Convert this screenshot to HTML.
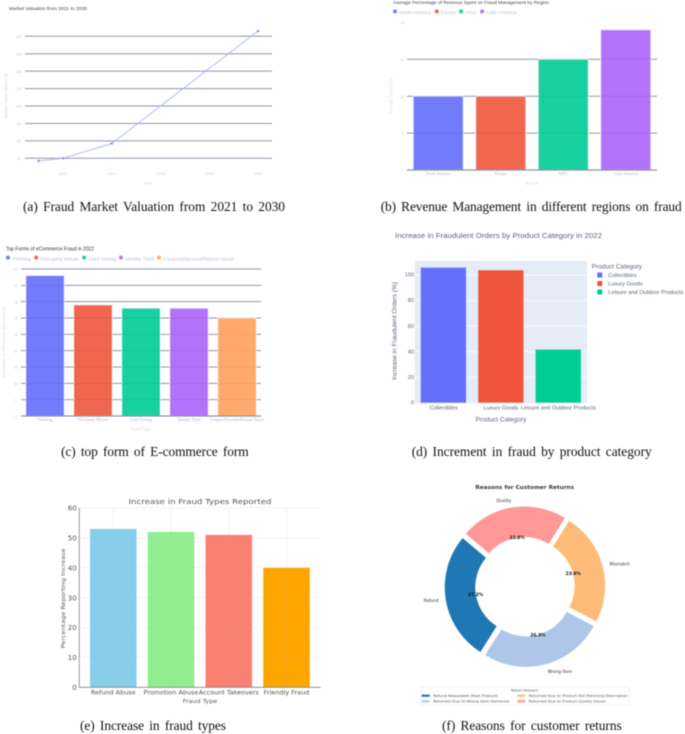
<!DOCTYPE html>
<html lang="en">
<head>
<meta charset="utf-8">
<title>Fraud charts figure</title>
<style>
html,body{margin:0;padding:0;background:#fff;width:685px;height:734px;overflow:hidden}
svg{display:block;filter:blur(.45px)}
.cap{font-family:"Liberation Serif",serif;font-size:13.4px;fill:#111;word-spacing:2px}
.ply{font-family:"Liberation Sans",sans-serif}
.ser{font-family:"Liberation Serif",serif}
.mpl{font-family:"DejaVu Sans",sans-serif}
</style>
</head>
<body>
<svg id="fig" xmlns="http://www.w3.org/2000/svg" width="685" height="734" viewBox="0 0 685 734">
  <rect width="685" height="734" fill="#fff"/>

  <g id="chart-a">
    <text class="ply" x="9" y="10" font-size="4.8" fill="#444" textLength="78" lengthAdjust="spacingAndGlyphs">Market Valuation from 2021 to 2030</text>
    <text class="ply" x="148" y="184.5" font-size="4.2" fill="#d3d9e6" text-anchor="middle">Year</text>
    <text class="ply" transform="translate(7.5,96) rotate(-90)" font-size="4.2" fill="#d3d9e6" text-anchor="middle" textLength="45" lengthAdjust="spacingAndGlyphs">Market Value (Billion $)</text>
  </g>
  <text class="cap" x="23" y="211" textLength="262" lengthAdjust="spacing">(a) Fraud Market Valuation from 2021 to 2030</text>

  <g id="chart-b">
    <text class="ply" x="393" y="3.8" font-size="4.4" fill="#444" textLength="156" lengthAdjust="spacingAndGlyphs">Average Percentage of Revenue Spent on Fraud Management by Region</text>
    <text class="ser" x="531.7" y="184.5" font-size="4.4" fill="#d3d9e6" text-anchor="middle">Region</text>
    <text class="ser" transform="translate(392,96) rotate(-90)" font-size="4.4" fill="#d3d9e6" text-anchor="middle" textLength="36" lengthAdjust="spacingAndGlyphs">Average Spend (%)</text>
  </g>
  <text class="cap" x="380.7" y="211" textLength="301" lengthAdjust="spacing">(b) Revenue Management in different regions on fraud</text>

  <g id="chart-c">
    <text class="ply" x="6" y="250.5" font-size="5" fill="#333" textLength="88" lengthAdjust="spacingAndGlyphs">Top Forms of eCommerce Fraud in 2022</text>
    <text class="ser" x="140.7" y="430.5" font-size="4.4" fill="#d3d9e6" text-anchor="middle">Fraud Type</text>
    <text class="ser" transform="translate(5,342) rotate(-90)" font-size="4.4" fill="#d3d9e6" text-anchor="middle" textLength="72" lengthAdjust="spacingAndGlyphs">Percentage of Merchants Affected (%)</text>
  </g>
  <text class="cap" x="61" y="456" textLength="187.7" lengthAdjust="spacing">(c) top form of E-commerce form</text>

  <g id="chart-d">
    <rect x="414.7" y="260.7" width="172.3" height="142.3" fill="#e5ecf6"/>
    <text class="ply" x="395" y="238.2" font-size="7" fill="#59647a" textLength="207" lengthAdjust="spacingAndGlyphs">Increase in Fraudulent Orders by Product Category in 2022</text>
    <text class="ply" x="501" y="421.5" font-size="6" fill="#59647a" text-anchor="middle" textLength="50.7" lengthAdjust="spacingAndGlyphs">Product Category</text>
    <text class="ply" transform="translate(396.7,331) rotate(-90)" font-size="6" fill="#59647a" text-anchor="middle" textLength="98" lengthAdjust="spacingAndGlyphs">Increase in Fraudulent Orders (%)</text>
    <text class="ply" x="591.7" y="268.4" font-size="6" fill="#59647a" textLength="50.3" lengthAdjust="spacingAndGlyphs">Product Category</text>
  </g>
  <text class="cap" x="411.7" y="456" textLength="240" lengthAdjust="spacing">(d) Increment in fraud by product category</text>

  <g id="chart-e">
    <text class="mpl" x="200" y="504.2" font-size="7.4" fill="#555" text-anchor="middle" textLength="143" lengthAdjust="spacingAndGlyphs">Increase in Fraud Types Reported</text>
    <text class="mpl" x="200" y="703" font-size="5.6" fill="#555" text-anchor="middle" textLength="34.7" lengthAdjust="spacingAndGlyphs">Fraud Type</text>
    <text class="mpl" transform="translate(65,598.3) rotate(-90)" font-size="5.6" fill="#555" text-anchor="middle" textLength="100" lengthAdjust="spacingAndGlyphs">Percentage Reporting Increase</text>
  </g>
  <text class="cap" x="80" y="730" textLength="146" lengthAdjust="spacing">(e) Increase in fraud types</text>

  <g id="chart-f">
    <text class="mpl" x="524.7" y="488.8" font-size="5.2" font-weight="bold" fill="#333" text-anchor="middle" textLength="98.7" lengthAdjust="spacingAndGlyphs">Reasons for Customer Returns</text>
    <rect x="420.7" y="687" width="208.6" height="18" fill="#fff" stroke="#e6e6e6" stroke-width=".5"/>
    <text class="mpl" x="524.7" y="691.6" font-size="3.5" fill="#555" text-anchor="middle">Return Reasons</text>
  </g>
  <text class="cap" x="442" y="730" textLength="179.7" lengthAdjust="spacing">(f) Reasons for customer returns</text>
</svg>

<script>
// Chart (a) data
const aYears = [2021, 2022, 2024, 2030];
const aValues = [37, 40, 57, 186];
const aYTicks = [40, 60, 80, 100, 120, 140, 160, 180];
const aXTicks = [2022, 2024, 2026, 2028, 2030];

// Chart (b) data
const bRegions = ['North America', 'Europe', 'APAC', 'Latin America'];
const bValues = [10, 10, 15, 19];
const bYTicks = [0, 5, 10, 15, 20];

// Chart (c) data
const cTypes = ['Phishing', 'First-party Misuse', 'Card Testing', 'Identity Theft', 'Coupon/Discount/Refund Abuse'];
const cValues = [43, 34, 33, 33, 30];
const cYTicks = [0, 5, 10, 15, 20, 25, 30, 35, 40, 45];

// Chart (d) data
const dCategories = ['Collectibles', 'Luxury Goods', 'Leisure and Outdoor Products'];
const dValues = [106, 104, 42];
const dYTicks = [0, 20, 40, 60, 80, 100];

// Chart (e) data
const eTypes = ['Refund Abuse', 'Promotion Abuse', 'Account Takeovers', 'Friendly Fraud'];
const eValues = [53, 52, 51, 40];
const eYTicks = [0, 10, 20, 30, 40, 50, 60];

// Chart (f) data
const fLabels = ['Refund', 'Wrong Item', 'Mismatch', 'Quality'];
const fValues = [27.2, 26.3, 23.9, 22.8];
const fLegend = ['Refund Requested (Kept Product)', 'Returned Due to Wrong Item Delivered', 'Returned Due to Product Not Matching Description', 'Returned Due to Product Quality Issues'];

const NS = 'http://www.w3.org/2000/svg';
const plotly = ['#636efa', '#ef553b', '#00cc96', '#ab63fa', '#ffa15a'];

function add(parent, tag, attrs, name) {
  const el = document.createElementNS(NS, tag);
  for (const k in attrs) el.setAttribute(k, attrs[k]);
  
  
  parent.appendChild(el);
  return el;
}
function label(parent, x, y, str, attrs, name) {
  const el = add(parent, 'text', Object.assign({x: x, y: y}, attrs), name);
  el.textContent = str;
  return el;
}
function linear(d0, d1, r0, r1) {
  return v => r0 + (v - d0) * (r1 - r0) / (d1 - d0);
}
function band(left, width, count, barWidth) {
  const step = width / count;
  return {center: i => left + step * (i + 0.5), barWidth: barWidth};
}
function yGrid(g, ticks, y, x0, x1, stroke, sw, prefix) {
  ticks.forEach(t => {
    add(g, 'line', {x1: x0, x2: x1, y1: y(t), y2: y(t), stroke: stroke, 'stroke-width': sw}, prefix + '-gridline-' + t);
  });
}
function yLabels(g, ticks, y, x, attrs, prefix) {
  ticks.forEach(t => {
    label(g, x, y(t) + 1.6, String(t), attrs, prefix + '-y-tick-' + t);
  });
}
function bars(g, values, xb, y, colors, opacity, stroke, prefix) {
  values.forEach((v, i) => {
    add(g, 'rect', {
      x: xb.center(i) - xb.barWidth / 2,
      y: y(v),
      width: xb.barWidth,
      height: y(0) - y(v),
      fill: colors[i % colors.length],
      'fill-opacity': opacity,
      stroke: stroke,
      'stroke-width': stroke === 'none' ? 0 : 0.8
    }, prefix + '-bar-' + i);
  });
}
function xLabels(g, cats, xb, yPos, attrs, prefix) {
  cats.forEach((c, i) => {
    label(g, xb.center(i), yPos, c, attrs, prefix + '-x-tick-' + i);
  });
}
function legendRow(g, items, markerX, textX, textW, yPos, prefix) {
  items.forEach((it, i) => {
    add(g, 'rect', {x: markerX[i], y: yPos - 4.6, width: 3.6, height: 3.6, rx: 0.6, fill: plotly[i], 'fill-opacity': 0.9}, prefix + '-legend-marker-' + i);
    label(g, textX[i], yPos, it, {class: 'ply', 'font-size': 4.8, fill: '#b4bdd3', textLength: textW[i], lengthAdjust: 'spacingAndGlyphs'}, prefix + '-legend-label-' + i);
  });
}

const gridCol = '#8f94a8';
const faintTick = {class: 'ply', 'font-size': 3.8, fill: '#c5cbdb', 'text-anchor': 'middle'};
const serifTick = {class: 'ser', 'font-size': 4.2, fill: '#a9b2c8', 'text-anchor': 'middle'};

// (a) line chart
(function () {
  const g = document.getElementById('chart-a');
  const x = linear(2022, 2030, 63, 258);
  const y = linear(40, 180, 158.3, 36.3);
  yGrid(g, aYTicks, y, 25, 272, gridCol, 1, 'chart-a');
  yLabels(g, aYTicks, y, 19, faintTick, 'chart-a');
  aXTicks.forEach(t => {
    label(g, x(t), 174.8, String(t), faintTick, 'chart-a-x-tick-' + t);
  });
  add(g, 'polyline', {
    points: aYears.map((yr, i) => x(yr) + ',' + y(aValues[i])).join(' '),
    fill: 'none', stroke: '#aab0fc', 'stroke-width': 0.9
  }, 'chart-a-line');
  aYears.forEach((yr, i) => {
    add(g, 'circle', {cx: x(yr), cy: y(aValues[i]), r: 1.2, fill: '#7d85fb'}, 'chart-a-point-' + yr);
  });
})();

// (b) bars
(function () {
  const g = document.getElementById('chart-b');
  const y = linear(0, 20, 170, 22.4);
  const xb = band(407, 250, bRegions.length, 50);
  yGrid(g, bYTicks.filter(t => t > 0 && t < 20), y, 407, 657, gridCol, 1, 'chart-b');
  bars(g, bValues, xb, y, plotly, 0.9, '#eef0fb', 'chart-b');
  add(g, 'line', {x1: 407, x2: 657, y1: y(0), y2: y(0), stroke: '#8f94a6', 'stroke-width': 1.3}, 'chart-b-x-axis');
  yLabels(g, bYTicks, y, 402.5, faintTick, 'chart-b');
  xLabels(g, bRegions, xb, 175.2, serifTick, 'chart-b');
  legendRow(g, bRegions, [393.2, 435, 459.3, 480.3], [399.3, 440.7, 465.3, 486.7], [31.5, 15.5, 12, 30], 14.2, 'chart-b');
})();

// (c) bars
(function () {
  const g = document.getElementById('chart-c');
  const y = linear(0, 45, 416, 269);
  const xb = band(21, 240, cTypes.length, 38.4);
  yGrid(g, cYTicks.filter(t => t > 0), y, 21, 261, gridCol, 1, 'chart-c');
  bars(g, cValues, xb, y, plotly, 0.9, '#eef0fb', 'chart-c');
  add(g, 'line', {x1: 21, x2: 261, y1: y(0), y2: y(0), stroke: '#8f94a6', 'stroke-width': 1.3}, 'chart-c-x-axis');
  yLabels(g, cYTicks, y, 16, faintTick, 'chart-c');
  xLabels(g, cTypes, xb, 421.2, serifTick, 'chart-c');
  legendRow(g, cTypes, [6.2, 34.3, 82.3, 119.2, 157.2], [12.7, 40.3, 88.7, 125, 163.7], [18.3, 39, 27.3, 29, 70.3], 260.4, 'chart-c');
})();

// (d) bars
(function () {
  const g = document.getElementById('chart-d');
  const y = linear(0, 100, 403, 275);
  const xb = band(414.7, 172.3, dCategories.length, 46);
  yGrid(g, dYTicks.filter(t => t > 0), y, 414.7, 587, '#fff', 0.8, 'chart-d');
  bars(g, dValues, xb, y, plotly, 1, '#dfe6f5', 'chart-d');
  yLabels(g, dYTicks, y, 414, {class: 'ply', 'font-size': 5.6, fill: '#59647a', 'text-anchor': 'end'}, 'chart-d');
  const tickW = [28, 34.7, 75];
  const tickC = [443.7, 501, 558.3];
  dCategories.forEach((c, i) => {
    label(g, tickC[i], 409.3, c, {class: 'ply', 'font-size': 5.6, fill: '#59647a', 'text-anchor': 'middle', textLength: tickW[i], lengthAdjust: 'spacingAndGlyphs'}, 'chart-d-x-tick-' + i);
  });
  const legW = [28.3, 34.3, 75];
  dCategories.forEach((c, i) => {
    const ly = 275 + i * 8.5;
    add(g, 'rect', {x: 597.3, y: ly - 2.5, width: 5, height: 5, fill: plotly[i]}, 'chart-d-legend-swatch-' + i);
    label(g, 608.3, ly + 1.9, c, {class: 'ply', 'font-size': 5.4, fill: '#59647a', textLength: legW[i], lengthAdjust: 'spacingAndGlyphs'}, 'chart-d-legend-label-' + i);
  });
})();

// (e) bars
(function () {
  const g = document.getElementById('chart-e');
  const y = linear(0, 60, 687.3, 508);
  const xb = band(84.4, 231, eTypes.length, 46.5);
  bars(g, eValues, xb, y, ['#87ceeb', '#90ee90', '#fa8072', '#ffa500'], 1, 'none', 'chart-e');
  yGrid(g, eYTicks.filter(t => t > 0), y, 79.3, 320.7, '#b5b5b5', 0.5, 'chart-e');
  g.querySelectorAll('line').forEach(l => l.setAttribute('stroke-opacity', '0.3'));
  eTypes.forEach((c, i) => {
    add(g, 'line', {x1: xb.center(i), x2: xb.center(i), y1: 508, y2: 687.3, stroke: '#b5b5b5', 'stroke-width': 0.5, 'stroke-opacity': 0.3}, 'chart-e-vgrid-' + i);
  });
  add(g, 'line', {x1: 79.3, x2: 79.3, y1: 508, y2: 687.3, stroke: '#808080', 'stroke-width': 0.8}, 'chart-e-y-axis');
  add(g, 'line', {x1: 79, x2: 320.7, y1: 687.3, y2: 687.3, stroke: '#808080', 'stroke-width': 0.9}, 'chart-e-x-axis');
  eYTicks.forEach(t => {
    label(g, 76.7, y(t) + 2.6, String(t), {class: 'mpl', 'font-size': 7, fill: '#555', 'text-anchor': 'end'}, 'chart-e-y-tick-' + t);
  });
  const w = [44.7, 54.7, 60, 45.7];
  eTypes.forEach((c, i) => {
    label(g, xb.center(i), 694.3, c, {class: 'mpl', 'font-size': 5.8, fill: '#555', 'text-anchor': 'middle', textLength: w[i], lengthAdjust: 'spacingAndGlyphs'}, 'chart-e-x-tick-' + i);
  });
})();

// (f) donut
(function () {
  const g = document.getElementById('chart-f');
  const colors = ['#1f77b4', '#aec7e8', '#ffbb78', '#ff9896'];
  const cx = 525, cy = 586.7, R = 76.5, r = 46, explode = 3.8;
  const total = fValues.reduce((a, b) => a + b, 0);
  const rad = d => d * Math.PI / 180;
  let start = 140;
  fValues.forEach((v, i) => {
    const sweep = v / total * 360;
    const end = start + sweep;
    const mid = rad(start + sweep / 2);
    const ox = cx + explode * Math.cos(mid);
    const oy = cy - explode * Math.sin(mid);
    const pt = (rr, a) => (ox + rr * Math.cos(rad(a))) + ' ' + (oy - rr * Math.sin(rad(a)));
    const large = sweep > 180 ? 1 : 0;
    add(g, 'path', {
      d: 'M' + pt(R, start) + ' A' + R + ' ' + R + ' 0 ' + large + ' 0 ' + pt(R, end) +
         ' L' + pt(r, end) + ' A' + r + ' ' + r + ' 0 ' + large + ' 1 ' + pt(r, start) + ' Z',
      fill: colors[i]
    }, 'chart-f-slice-' + fLabels[i].toLowerCase().replace(' ', '-'));
    const lx = cx + 87.5 * Math.cos(mid);
    const ly = cy - 87.5 * Math.sin(mid);
    label(g, lx, ly + 1.6, fLabels[i], {class: 'mpl', 'font-size': 4.2, fill: '#333', 'text-anchor': Math.cos(mid) > 0 ? 'start' : 'end'}, 'chart-f-label-' + i);
    label(g, cx + 50 * Math.cos(mid), cy - 50 * Math.sin(mid) + 1.6, v.toFixed(1) + '%', {class: 'mpl', 'font-size': 4.4, 'font-weight': 'bold', fill: '#111', 'text-anchor': 'middle'}, 'chart-f-percent-' + i);
    start = end;
  });
  const lx = [421.7, 421.7, 517.3, 517.3];
  const ly = [695.7, 701.3, 695.7, 701.3];
  const tw = [65, 76, 99, 77];
  fLegend.forEach((t, i) => {
    add(g, 'rect', {x: lx[i], y: ly[i] - 1.1, width: 8, height: 2.2, fill: colors[i]}, 'chart-f-legend-swatch-' + i);
    label(g, lx[i] + 11.4, ly[i] + 1.2, t, {class: 'mpl', 'font-size': 3.4, fill: '#555', textLength: tw[i], lengthAdjust: 'spacingAndGlyphs'}, 'chart-f-legend-label-' + i);
  });
})();
</script>
</body>
</html>
